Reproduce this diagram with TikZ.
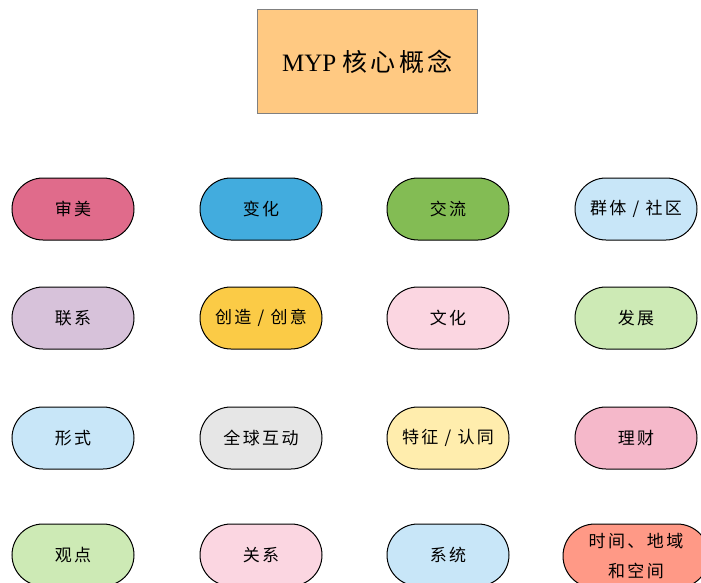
\documentclass[tikz,border=0pt]{standalone}
\usepackage{fontspec}
\setmainfont{Liberation Serif}
\newfontfamily\cjk[LetterSpace=14]{Noto Sans CJK SC}
\usetikzlibrary{shapes.misc}
\definecolor{cTitle}{HTML}{FFC982}
\definecolor{cA}{HTML}{E06B8B}
\definecolor{cB}{HTML}{42ACDE}
\definecolor{cC}{HTML}{83BC54}
\definecolor{cD}{HTML}{C8E6F8}
\definecolor{cE}{HTML}{D7C2DA}
\definecolor{cF}{HTML}{FBCB46}
\definecolor{cG}{HTML}{FBD6E1}
\definecolor{cH}{HTML}{CDEAB5}
\definecolor{cI}{HTML}{E6E6E6}
\definecolor{cJ}{HTML}{FFEDAD}
\definecolor{cK}{HTML}{F5B8CA}
\definecolor{cL}{HTML}{FF9986}
\tikzset{
  pill/.style={rounded rectangle, draw=black, line width=1pt, minimum width=122pt, minimum height=62pt, inner sep=0pt, font=\cjk\fontsize{17}{30}\selectfont, align=center},
  titlebox/.style={rectangle, draw=gray, line width=1pt, fill=cTitle, minimum width=220pt, minimum height=104pt, inner sep=0pt, font=\fontsize{25}{30}\selectfont}
}
\begin{document}
\begin{tikzpicture}[x=1pt,y=-1pt]
\useasboundingbox (0,0) rectangle (701,583);
\clip (0,0) rectangle (701,583);
\node[titlebox] (title) at (367.5,62) {MYP {\cjk 核心概念}};
\node[pill, fill=cA] (n11) at (73,209) {审美};
\node[pill, fill=cB] (n12) at (261,209) {变化};
\node[pill, fill=cC] (n13) at (448,209) {交流};
\node[pill, fill=cD] (n14) at (636,209) {群体 / 社区};
\node[pill, fill=cE] (n21) at (73,318) {联系};
\node[pill, fill=cF] (n22) at (261,318) {创造 / 创意};
\node[pill, fill=cG] (n23) at (448,318) {文化};
\node[pill, fill=cH] (n24) at (636,318) {发展};
\node[pill, fill=cD] (n31) at (73,438) {形式};
\node[pill, fill=cI] (n32) at (261,438) {全球互动};
\node[pill, fill=cJ] (n33) at (448,438) {特征 / 认同};
\node[pill, fill=cK] (n34) at (636,438) {理财};
\node[pill, fill=cH] (n41) at (73,555) {观点};
\node[pill, fill=cG] (n42) at (261,555) {关系};
\node[pill, fill=cD] (n43) at (448,555) {系统};
\node[pill, fill=cL, minimum width=146pt, minimum height=64pt] (n44) at (636,556) {时间、地域\\和空间};
\end{tikzpicture}
\end{document}
